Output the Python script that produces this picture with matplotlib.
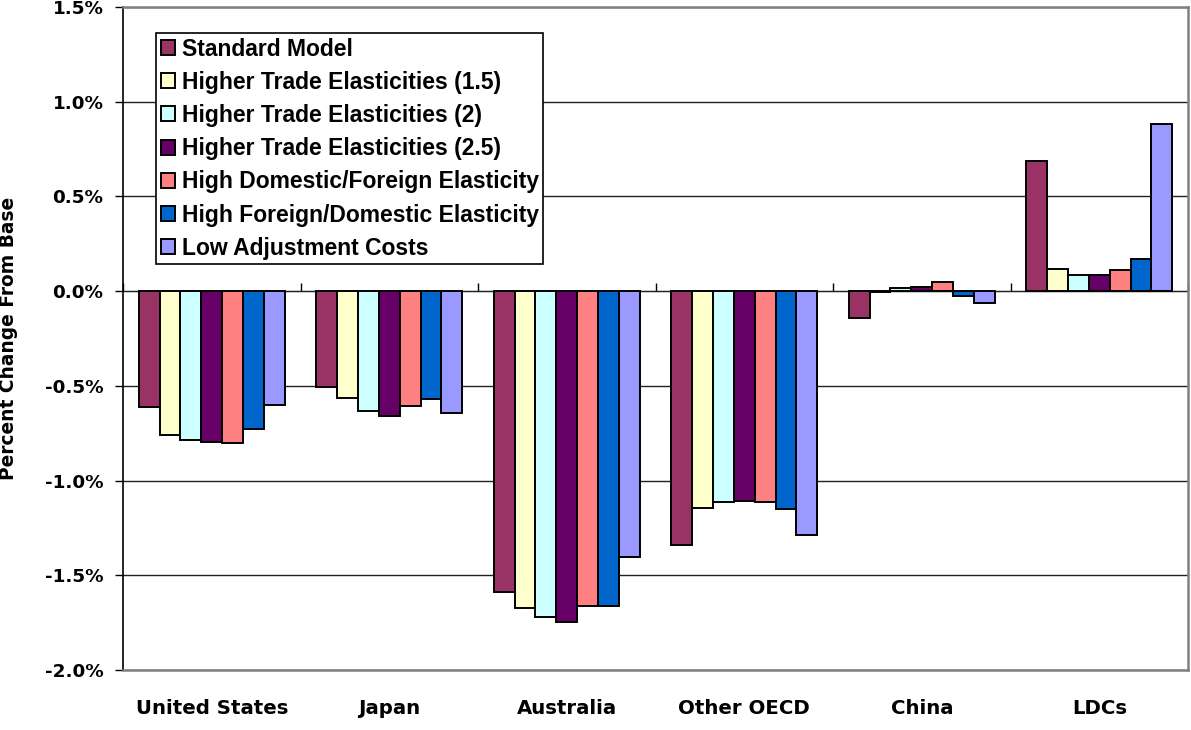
import matplotlib
matplotlib.use("Agg")
import matplotlib.pyplot as plt
import numpy as np
from matplotlib.ticker import FuncFormatter, MultipleLocator

categories = ["United States", "Japan", "Australia", "Other OECD", "China", "LDCs"]
series_names = [
    "Standard Model",
    "Higher Trade Elasticities (1.5)",
    "Higher Trade Elasticities (2)",
    "Higher Trade Elasticities (2.5)",
    "High Domestic/Foreign Elasticity",
    "High Foreign/Domestic Elasticity",
    "Low Adjustment Costs",
]
standard_model = [-0.614, -0.508, -1.587, -1.342, -0.140, 0.685]
higher_trade_15 = [-0.758, -0.564, -1.675, -1.143, -0.005, 0.115]
higher_trade_2 = [-0.787, -0.631, -1.719, -1.115, 0.015, 0.087]
higher_trade_25 = [-0.797, -0.657, -1.745, -1.106, 0.022, 0.083]
high_dom_for = [-0.802, -0.608, -1.661, -1.115, 0.050, 0.114]
high_for_dom = [-0.728, -0.569, -1.664, -1.150, -0.025, 0.168]
low_adj_costs = [-0.599, -0.643, -1.405, -1.286, -0.062, 0.883]
series_values = [standard_model, higher_trade_15, higher_trade_2, higher_trade_25,
                 high_dom_for, high_for_dom, low_adj_costs]
colors = ["#993366", "#FFFFCC", "#CCFFFF", "#660066", "#FF8080", "#0066CC", "#9999FF"]

W, H, DPI = 1191, 730, 100
fig = plt.figure(figsize=(W / DPI, H / DPI), dpi=DPI)
ax = fig.add_axes([123 / W, (H - 670) / H, (1188 - 123) / W, (670 - 7) / H])

n = len(series_names)
bw = 1 / (n + 1.5)
x = np.arange(len(categories))
for j, (name, vals, c) in enumerate(zip(series_names, series_values, colors)):
    ax.bar(x + (j - (n - 1) / 2) * bw, vals, width=bw, color=c, edgecolor="black",
           linewidth=1.4, label=name, zorder=3)

ax.set_xlim(-0.5, len(categories) - 0.5)
ax.set_ylim(-2.0, 1.5)
ax.yaxis.set_major_locator(MultipleLocator(0.5))
ax.yaxis.set_major_formatter(FuncFormatter(lambda v, p: f"{v:.1f}%"))
ax.grid(axis="y", color="#222222", linewidth=1.0, zorder=0)
ax.set_axisbelow(True)

ax.set_xticks(x)
ax.set_xticklabels(categories, family="DejaVu Sans", weight="bold", size=14.2)
ax.tick_params(axis="x", length=0, pad=21)
for lbl in ax.get_yticklabels():
    lbl.set_fontfamily("DejaVu Sans")
    lbl.set_fontweight("bold")
    lbl.set_fontsize(13.2)
ax.tick_params(axis="y", direction="out", length=6, width=1, color="black", pad=8)

for s in ["top", "right", "bottom"]:
    ax.spines[s].set_color("#808080")
    ax.spines[s].set_linewidth(1.8)
ax.spines["left"].set_color("black")
ax.spines["left"].set_linewidth(1.2)

ax.set_ylabel("Percent Change From Base", family="DejaVu Sans", weight="bold", size=13.4)
ax.yaxis.set_label_coords((18 - 123) / 1065, 0.5)

# category axis crossing at zero with ticks between groups
sec = ax.secondary_xaxis(2.0 / 3.5)
sec.set_xticks(np.arange(-0.5, len(categories), 1.0))
sec.set_xticklabels([])
sec.tick_params(axis="x", direction="out", length=6, width=1, color="black")
sec.spines["bottom"].set_color("black")
sec.spines["bottom"].set_linewidth(1.2)

leg = ax.legend(loc="upper left", bbox_to_anchor=((156 - 123) / 1065, (670 - 33) / 663),
                borderaxespad=0, frameon=True, fancybox=False, edgecolor="black",
                framealpha=1, prop=dict(family="Liberation Sans", weight="bold", size=16.5),
                handlelength=0.62, handleheight=0.62, handletextpad=0.3,
                labelspacing=0.445, borderpad=0.2)
leg.get_frame().set_linewidth(1.2)
leg.set_zorder(5)

fig.savefig("out.png", dpi=DPI)
